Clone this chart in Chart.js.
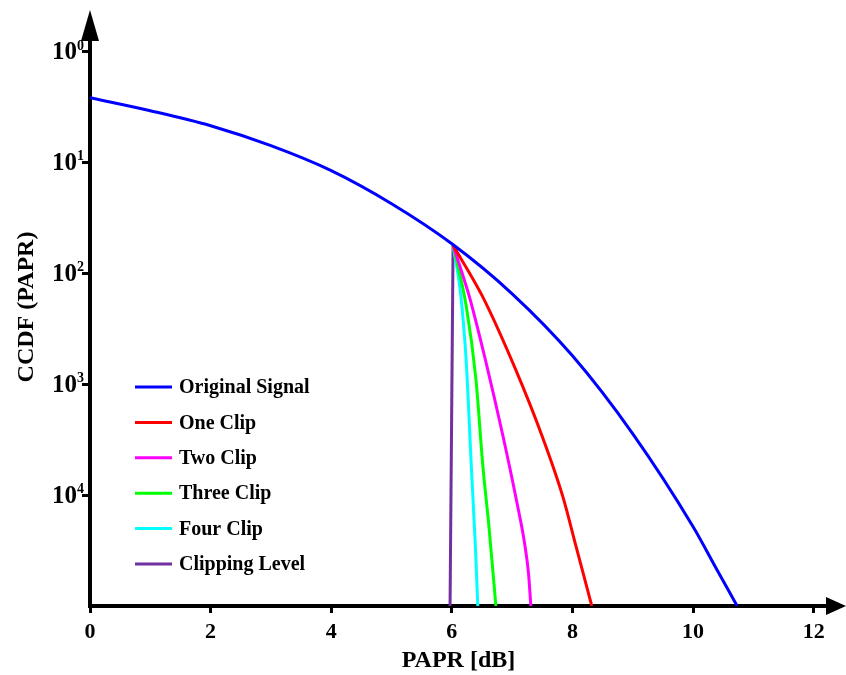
<!DOCTYPE html>
<html>
<head>
<meta charset="utf-8">
<title>CCDF of PAPR</title>
<script src="https://cdn.jsdelivr.net/npm/chart.js@4.4.1/dist/chart.umd.min.js"></script>
<style>
  html, body { margin: 0; padding: 0; background: #ffffff; }
  #wrap { width: 846px; height: 675px; }
</style>
</head>
<body>
<div id="wrap"><canvas id="ccdf" width="846" height="675"></canvas></div>
<script>
// PAPR values (dB) and CCDF values
const originalX = [0, 1, 2, 3, 4, 5, 6, 7, 8, 9, 10, 10.4, 10.73];
const originalY = [0.387, 0.2953, 0.2162, 0.1427, 0.0849, 0.0427, 0.01858, 0.00657, 0.00181, 0.000358, 0.0000519, 0.000021, 0.00001];

const oneClipX = [6.02, 6.51, 7.06, 7.5, 7.84, 8.06, 8.32];
const oneClipY = [0.0180, 0.00619, 0.00135, 0.000337, 0.000097, 0.0000343, 0.00001];

const twoClipX = [6.02, 6.29, 6.57, 6.85, 7.07, 7.21, 7.27, 7.31];
const twoClipY = [0.0180, 0.0062, 0.00155, 0.000337, 0.0000905, 0.0000356, 0.0000199, 0.00001];

const threeClipX = [6.02, 6.24, 6.40, 6.51, 6.62, 6.73];
const threeClipY = [0.0180, 0.00503, 0.0011, 0.000194, 0.0000485, 0.00001];

const fourClipX = [6.02, 6.15, 6.24, 6.32, 6.39, 6.43];
const fourClipY = [0.0180, 0.0062, 0.00155, 0.000194, 0.0000343, 0.00001];

const clipLevelX = [6.02, 5.97];
const clipLevelY = [0.0180, 0.00001];

const seriesNames = ['Original Signal', 'One Clip', 'Two Clip', 'Three Clip', 'Four Clip', 'Clipping Level'];
const seriesColors = ['#0000ff', '#ff0000', '#ff00ff', '#00ff00', '#00ffff', '#7030a0'];

const xTicks = [0, 2, 4, 6, 8, 10, 12];
const yTicks = [1, 0.1, 0.01, 0.001, 0.0001];
const yTickSup = ['0', '1', '2', '3', '4'];

const serif = '"Liberation Serif", "Times New Roman", serif';

function toPoints(xs, ys) {
    return xs.map((x, i) => ({ x: x, y: ys[i] }));
}

const allX = [originalX, oneClipX, twoClipX, threeClipX, fourClipX, clipLevelX];
const allY = [originalY, oneClipY, twoClipY, threeClipY, fourClipY, clipLevelY];

const datasets = seriesNames.map((name, i) => ({
    label: name,
    data: toPoints(allX[i], allY[i]),
    borderColor: seriesColors[i],
    backgroundColor: seriesColors[i],
    borderWidth: 3,
    pointRadius: 0,
    showLine: true,
    fill: false,
    cubicInterpolationMode: 'monotone'
}));

// arrows, y tick labels with superscripts, y title and the legend
const axisDecor = {
    id: 'axisDecor',
    afterDraw(chart) {
        const ctx = chart.ctx;
        const area = chart.chartArea;
        const yScale = chart.scales.y;
        ctx.save();
        ctx.fillStyle = '#000';
        // y arrow
        ctx.beginPath();
        ctx.moveTo(area.left, 10);
        ctx.lineTo(area.left - 9, area.top + 1);
        ctx.lineTo(area.left + 9, area.top + 1);
        ctx.closePath();
        ctx.fill();
        // x arrow
        ctx.beginPath();
        ctx.moveTo(846, area.bottom);
        ctx.lineTo(area.right - 1, area.bottom - 9);
        ctx.lineTo(area.right - 1, area.bottom + 9);
        ctx.closePath();
        ctx.fill();

        // y tick labels: 10 with a small raised digit
        yTicks.forEach((v, i) => {
            const py = yScale.getPixelForValue(v);
            ctx.font = 'bold 25px ' + serif;
            ctx.textAlign = 'right';
            ctx.textBaseline = 'middle';
            ctx.fillText('10', 77, py + 1);
            ctx.font = 'bold 14px ' + serif;
            ctx.textAlign = 'left';
            ctx.fillText(yTickSup[i], 77, py - 6);
        });

        // y title
        ctx.save();
        ctx.translate(27, 307);
        ctx.rotate(-Math.PI / 2);
        ctx.font = 'bold 24px ' + serif;
        ctx.textAlign = 'center';
        ctx.textBaseline = 'middle';
        ctx.fillText('CCDF (PAPR)', 0, 0);
        ctx.restore();

        // legend
        const rowY = 387, rowStep = 35.4;
        ctx.font = 'bold 20px ' + serif;
        ctx.textBaseline = 'middle';
        ctx.textAlign = 'left';
        chart.data.datasets.forEach((ds, i) => {
            const y = rowY + i * rowStep;
            ctx.strokeStyle = ds.borderColor;
            ctx.lineWidth = 3;
            ctx.beginPath();
            ctx.moveTo(135, y);
            ctx.lineTo(172, y);
            ctx.stroke();
            ctx.fillStyle = '#000';
            ctx.fillText(ds.label, 179, y + 1);
        });
        ctx.restore();
    }
};

new Chart(document.getElementById('ccdf'), {
    type: 'scatter',
    data: { datasets: datasets },
    options: {
        responsive: false,
        animation: false,
        layout: { padding: { top: 40, right: 19, left: 0, bottom: 0 } },
        plugins: {
            legend: { display: false },
            tooltip: { enabled: false }
        },
        scales: {
            x: {
                type: 'linear',
                min: 0,
                max: 12.22,
                afterBuildTicks(scale) {
                    scale.ticks = xTicks.map(v => ({ value: v }));
                },
                afterFit(scale) { scale.height = 69; },
                grid: {
                    drawOnChartArea: false,
                    drawTicks: true,
                    tickLength: 7,
                    tickWidth: 3,
                    tickColor: '#000'
                },
                border: { display: true, color: '#000', width: 4 },
                ticks: {
                    color: '#000',
                    padding: 6,
                    font: { family: serif, size: 22, weight: 'bold' },
                    callback: v => String(v)
                },
                title: {
                    display: true,
                    text: 'PAPR [dB]',
                    color: '#000',
                    padding: { top: 0, bottom: 0 },
                    font: { family: serif, size: 24, weight: 'bold' }
                }
            },
            y: {
                type: 'logarithmic',
                min: 0.00001,
                max: 1.283,
                afterBuildTicks(scale) {
                    scale.ticks = yTicks.map(v => ({ value: v }));
                },
                afterFit(scale) { scale.width = 90; },
                grid: {
                    drawOnChartArea: false,
                    drawTicks: true,
                    tickLength: 8,
                    tickWidth: 3,
                    tickColor: '#000'
                },
                border: { display: true, color: '#000', width: 4 },
                ticks: { display: false },
                title: { display: false }
            }
        }
    },
    plugins: [axisDecor]
});
</script>
</body>
</html>
